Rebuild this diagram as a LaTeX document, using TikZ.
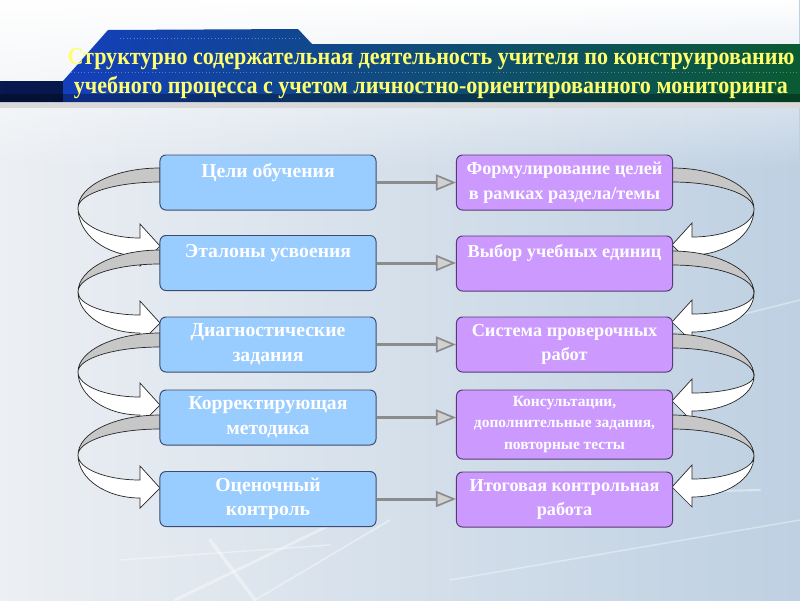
\documentclass[tikz,border=0pt]{standalone}
\usepackage{fontspec}
\setmainfont{Liberation Serif}
\newfontfamily\headfont{Liberation Serif}[FakeStretch=0.912]
\usepackage{tikz}
\usetikzlibrary{arrows.meta,fadings}

\definecolor{boxblue}{RGB}{153,204,255}
\definecolor{boxviolet}{RGB}{204,153,255}
\definecolor{blueline}{RGB}{60,75,110}
\definecolor{violetline}{RGB}{85,60,115}
\definecolor{headyellow}{RGB}{255,255,110}
\definecolor{bgblue}{RGB}{190,208,226}
\definecolor{bglight}{RGB}{236,239,243}

% twisted ribbon arrow: edge x, side (1 left / -1 right), start y, turn y, tip y
\newcommand{\ribbon}[5]{%
  \begin{scope}[shift={(#1,0)},xscale=#2]
    \filldraw[ribbon back] (0,#3) .. controls (-45,#3) and (-82,{#4-0.552*(#4-#3)}) .. (-82,#4)
      .. controls (-82,{#4-0.552*(#4-#3-14)}) and (-45,#3+14) .. (0,#3+14) -- cycle;
    \filldraw[ribbon front] (-82,#4) .. controls (-82,{#4+0.552*(#5+10-#4)}) and (-54,#5+10) .. (-20,#5+10)
      -- (-20,#5+20) -- (0,#5) -- (-20,#5-22) -- (-20,#5-8)
      .. controls (-54,#5-8) and (-82,{#4+0.552*(#5-8-#4)}) .. (-82,#4) -- cycle;
  \end{scope}}

\begin{document}
\begin{tikzpicture}[x=0.025cm,y=-0.025cm,
    left node/.style={rectangle,rounded corners=0.15cm,draw=blueline,fill=boxblue,line width=0.7pt,
      minimum width=5.4cm,minimum height=1.375cm,inner sep=2pt,align=center,text=white,
      font=\fontsize{14}{17.5}\selectfont\bfseries},
    right node/.style={left node,draw=violetline,fill=boxviolet,font=\fontsize{13}{17.5}\selectfont\bfseries},
    ribbon back/.style={fill=black!22,draw=black!85,line width=0.5pt},
    ribbon front/.style={fill=white,draw=black!85,line width=0.5pt},
    link/.style={draw=black!45,line width=0.075cm,
      -{Triangle[length=0.5cm,width=0.4cm,line width=1.2pt,fill=black!18]}}]

  \useasboundingbox (0,0) rectangle (800,600);

  % background
  \shade[left color=bglight,right color=bgblue] (0,0) rectangle (800,600);
  \fill[white,path fading=south] (0,0) rectangle (800,170);
  \begin{scope}[white,line cap=round,opacity=0.4]
    \draw[line width=2pt] (175,600) -- (330,525);
    \draw[line width=1.2pt] (255,600) -- (390,520);
    \draw[line width=2.5pt] (210,540) -- (255,600);
    \draw[line width=1pt] (120,560) -- (330,545);
    \draw[line width=1pt] (450,580) -- (800,520);
    \draw[line width=1.5pt] (680,492) -- (760,490);
    \draw[line width=1pt] (560,360) -- (800,300);
  \end{scope}

  % title band
  \fill[black!15] (0,102) rectangle (800,108);
  \shade[left color={rgb,255:red,20;green,60;blue,200},middle color={rgb,255:red,10;green,95;blue,120},
    right color={rgb,255:red,10;green,90;blue,50}]
    (0,81) -- (63,81) -- (108,30) -- (298,29) -- (312,44) -- (800,44) -- (800,102) -- (0,102) -- cycle;
  \fill[black,opacity=0.3] (0,94) rectangle (800,102);
  \fill[black,opacity=0.6] (0,81) rectangle (63,102);
  \draw[white,opacity=0.35,dotted] (120,38) -- (300,38);
  \draw[white,opacity=0.3,dotted] (0,72) -- (800,72);
  \node[text=headyellow,align=center,inner sep=0pt,
        font=\headfont\fontsize{17.2}{20.5}\selectfont\bfseries] (title) at (431,74)
    {Структурно содержательная деятельность учителя по конструированию\\
     учебного процесса с учетом личностно-ориентированного мониторинга};

  % ribbons
  \ribbon{160}{1}{168}{208}{246}
  \ribbon{160}{1}{250}{292}{323}
  \ribbon{160}{1}{333}{372}{405}
  \ribbon{160}{1}{415}{455}{488}
  \ribbon{672}{-1}{168}{209}{245}
  \ribbon{672}{-1}{251}{293}{322}
  \ribbon{672}{-1}{334}{376}{401}
  \ribbon{672}{-1}{415}{456}{487}

  % boxes
  \node[left node] (l1) at (268,182.5) {Цели обучения\\\mbox{}};
  \node[left node] (l2) at (268,263) {Эталоны усвоения\\\mbox{}};
  \node[left node] (l3) at (268,344.5) {Диагностические\\задания};
  \node[left node] (l4) at (268,417.5) {Корректирующая\\методика};
  \node[left node] (l5) at (268,499) {Оценочный\\контроль};

  \node[right node] (r1) at (564.5,182.5) {Формулирование целей\\в рамках раздела/темы};
  \node[right node] (r2) at (564.5,263.5) {Выбор учебных единиц\\\mbox{}};
  \node[right node] (r3) at (564.5,344.5) {Система проверочных\\работ};
  \node[right node,minimum height=1.725cm,font=\fontsize{11}{15.5}\selectfont\bfseries] (r4) at (564.5,424.5)
    {Консультации,\\дополнительные задания,\\повторные тесты};
  \node[right node] (r5) at (564.5,499.5) {Итоговая контрольная\\работа};

  \path (l1.east) edge[link] (l1.east -| r1.west)
        (l2.east) edge[link] (l2.east -| r2.west)
        (l3.east) edge[link] (l3.east -| r3.west)
        (l4.east) edge[link] (l4.east -| r4.west)
        (l5.east) edge[link] (l5.east -| r5.west);
\end{tikzpicture}
\end{document}
